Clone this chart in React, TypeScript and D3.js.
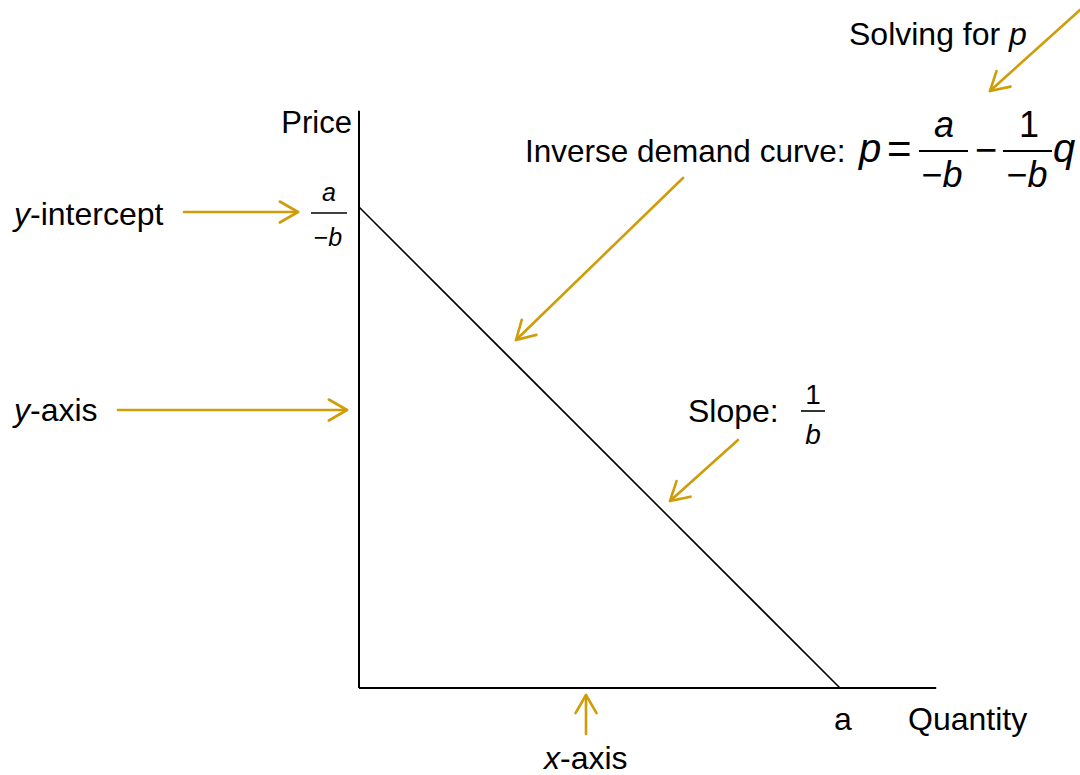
import React from "react";
import * as d3 from "d3";

// Data: linear inverse demand, price intercept a/(-b) normalised to 1, quantity intercept a normalised to 1
const demandPoints = [
  { q: 0, p: 1 },
  { q: 1, p: 0 },
];
const xDomain = [0, 1.2];
const yDomain = [0, 1.2];
const axisTitles = { x: "Quantity", y: "Price" };
const xTickLabel = "a";

// Annotation arrows (tail -> tip), layout in page pixels
const arrows = [
  { id: "solving", x1: 1080, y1: 10, x2: 990, y2: 91 },
  { id: "inverse", x1: 683, y1: 178, x2: 516, y2: 340 },
  { id: "yint", x1: 184, y1: 212, x2: 298, y2: 212 },
  { id: "yaxis", x1: 118, y1: 410, x2: 347, y2: 410 },
  { id: "slope", x1: 738, y1: 440, x2: 670, y2: 501 },
  { id: "xaxis", x1: 586, y1: 734, x2: 586, y2: 695 },
];

const W = 1080;
const H = 775;
const FONT = "'Liberation Sans', Arial, Helvetica, sans-serif";
const GOLD = "#CF9D0A";

function Arrow({ x1, y1, x2, y2 }: { x1: number; y1: number; x2: number; y2: number }) {
  const ang = Math.atan2(y1 - y2, x1 - x2);
  const L = 21;
  const spread = (30 * Math.PI) / 180;
  const b1 = [x2 + L * Math.cos(ang + spread), y2 + L * Math.sin(ang + spread)];
  const b2 = [x2 + L * Math.cos(ang - spread), y2 + L * Math.sin(ang - spread)];
  const line = d3.line();
  return (
    <g stroke={GOLD} strokeWidth={2.6} fill="none" strokeLinecap="round" strokeLinejoin="round">
      <path d={line([[x1, y1], [x2, y2]]) || ""} />
      <path d={line([b1 as [number, number], [x2, y2], b2 as [number, number]]) || ""} />
    </g>
  );
}

export default function App() {
  const x = d3.scaleLinear().domain(xDomain).range([359, 936.2]);
  const y = d3.scaleLinear().domain(yDomain).range([688, 110.8]);
  const demand = d3
    .line<{ q: number; p: number }>()
    .x((d) => x(d.q))
    .y((d) => y(d.p));

  const yInt = y(1);
  const qInt = x(1);

  return (
    <svg
      width={W}
      height={H}
      style={{ position: "absolute", left: 0, top: 0, background: "#fff" }}
      fontFamily={FONT}
    >
      <rect x={0} y={0} width={W} height={H} fill="#fff" />
      {/* axes */}
      <line x1={x(0)} x2={x(0)} y1={y(0)} y2={y(yDomain[1])} stroke="#000" strokeWidth={2} />
      <line x1={x(0)} x2={x(xDomain[1])} y1={y(0)} y2={y(0)} stroke="#000" strokeWidth={2} />
      {/* demand */}
      <path d={demand(demandPoints) || ""} stroke="#000" strokeWidth={1.6} fill="none" />

      {/* axis titles */}
      <text x={352} y={133} fontSize={31} textAnchor="end">{axisTitles.y}</text>
      <text x={908} y={730} fontSize={32}>{axisTitles.x}</text>
      <text x={qInt + 3} y={730} fontSize={32} textAnchor="middle">{xTickLabel}</text>

      {/* y-intercept fraction */}
      <text x={329} y={yInt - 6} fontSize={25} textAnchor="middle" fontStyle="italic">a</text>
      <line x1={311} x2={347} y1={yInt + 6} y2={yInt + 6} stroke="#000" strokeWidth={1.6} />
      <text x={328} y={yInt + 39} fontSize={25} textAnchor="middle">
        −<tspan fontStyle="italic">b</tspan>
      </text>

      {/* left labels */}
      <text x={14} y={225} fontSize={32}>
        <tspan fontStyle="italic">y</tspan>-intercept
      </text>
      <text x={14} y={421} fontSize={32}>
        <tspan fontStyle="italic">y</tspan>-axis
      </text>
      <text x={544} y={769} fontSize={32}>
        <tspan fontStyle="italic">x</tspan>-axis
      </text>

      {/* Solving for p */}
      <text x={849} y={45} fontSize={32}>
        Solving for <tspan fontStyle="italic">p</tspan>
      </text>

      {/* Inverse demand formula */}
      <text x={525} y={162} fontSize={31.5}>Inverse demand curve:</text>
      <text x={859} y={162} fontSize={40} fontStyle="italic">p</text>
      <text x={887} y={163} fontSize={42}>=</text>
      <line x1={919} x2={968} y1={151} y2={151} stroke="#000" strokeWidth={2} />
      <text x={944} y={137} fontSize={36} fontStyle="italic" textAnchor="middle">a</text>
      <text x={942} y={187} fontSize={36} textAnchor="middle">
        −<tspan fontStyle="italic">b</tspan>
      </text>
      <text x={986} y={163} fontSize={38} textAnchor="middle">−</text>
      <line x1={1003} x2={1052} y1={151} y2={151} stroke="#000" strokeWidth={2} />
      <text x={1029} y={137} fontSize={36} textAnchor="middle">1</text>
      <text x={1027} y={187} fontSize={36} textAnchor="middle">
        −<tspan fontStyle="italic">b</tspan>
      </text>
      <text x={1053} y={162} fontSize={40} fontStyle="italic">q</text>

      {/* Slope */}
      <text x={688} y={422} fontSize={32}>Slope:</text>
      <text x={813} y={404} fontSize={28} textAnchor="middle">1</text>
      <line x1={801} x2={825} y1={411} y2={411} stroke="#000" strokeWidth={1.6} />
      <text x={813} y={444} fontSize={28} fontStyle="italic" textAnchor="middle">b</text>

      {/* arrows */}
      {arrows.map((a) => (
        <Arrow key={a.id} x1={a.x1} y1={a.y1} x2={a.x2} y2={a.y2} />
      ))}
    </svg>
  );
}
